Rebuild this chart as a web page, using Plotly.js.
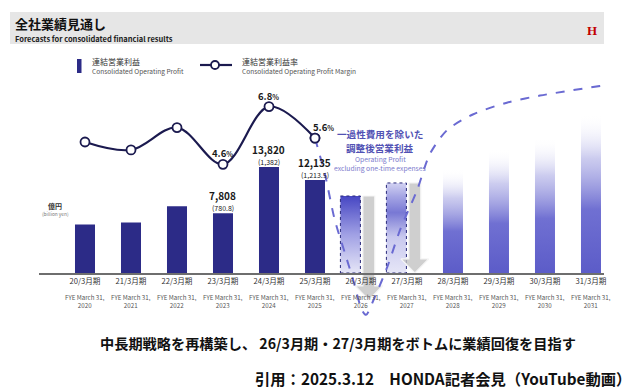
<!DOCTYPE html>
<html><head><meta charset="utf-8">
<script src="https://cdn.plot.ly/plotly-3.0.1.min.js"></script>
<style>html,body{margin:0;padding:0;background:#fff;}#chart{width:637px;height:391px;}</style>
</head><body><div id="chart"></div>
<script>
// ---------- data ----------
const periods = ['20/3月期','21/3月期','22/3月期','23/3月期','24/3月期','25/3月期','26/3月期','27/3月期','28/3月期','29/3月期','30/3月期','31/3月期'];
const fyeYears = ['2020','2021','2022','2023','2024','2025','2026','2027','2028','2029','2030','2031'];
const actualProfit = [6336, 6602, 8712, 7808, 13820, 12135];          // 億円, 20/3 - 25/3
const profitLabels = ['', '', '', '7,808', '13,820', '12,135'];
const profitSubLabels = ['', '', '', '(780.8)', '(1,382)', '(1,213.5)'];
const marginPct = [5.45, 5.15, 6.0, 4.6, 6.8, 5.6];
const marginLabels = ['', '', '', '4.6', '6.8', '5.6'];
const adjustedProfit = [10050, 11750];       // 26/3, 27/3 (excluding one-time expenses)
const reportedArrowTip = [-3500, 0];         // 26/3, 27/3 arrow tips
const outlookProfit = [13600, 16200, 17700, 20800];  // 28/3 - 31/3 (faded)
const trendX = [5, 5.22, 5.43, 5.65, 5.83, 6.02, 6.11, 6.30, 6.57, 6.85, 7.22, 7.5, 7.87, 8.43, 9.17, 9.89, 11.2];
const trendPct = [5.6, 4.19, 2.48, 1.22, 0.19, -0.95, -1.14, -0.46, 0.68, 2.10, 3.62, 5.0, 5.9, 6.5, 6.95, 7.22, 7.59];

// ---------- style ----------
const FONT = '"Noto Sans CJK JP", "Noto Sans", sans-serif';
const NAVY = '#2c2b87';
const LINE = '#1b1a4f';
const PURPLE = '#6a6ad2';
const L = 39, R = 604, T = 85, B = 320;
const PX = p => (p - L) / (R - L);
const PY = p => (B - p) / (B - T);
const BW = 0.435;

const traces = [];

// faded outlook bars
outlookProfit.forEach((v, k) => {
  const c = 8 + k;
  traces.push({
    type: 'scatter', mode: 'lines', fill: 'toself', hoverinfo: 'skip', showlegend: false,
    x: [c - BW/2, c + BW/2, c + BW/2, c - BW/2, c - BW/2],
    y: [0, 0, v, v, 0],
    line: {width: 0, color: 'rgba(0,0,0,0)'},
    fillcolor: 'rgba(100,100,205,0.6)',
    fillgradient: {type: 'vertical', colorscale: [[0, 'rgb(92,92,200)'], [0.4, 'rgb(112,112,210)'], [0.72, 'rgba(170,170,228,0.6)'], [1, 'rgba(255,255,255,0)']]}
  });
});

// adjusted boxes 26/3, 27/3
const boxScales = [
  [[0, 'rgb(230,230,247)'], [0.5, 'rgb(160,160,228)'], [1, 'rgb(70,70,195)']],
  [[0, 'rgb(230,230,247)'], [0.4, 'rgb(200,200,238)'], [0.67, 'rgb(120,120,212)'], [0.85, 'rgb(165,165,228)'], [1, 'rgb(210,210,242)']]
];
adjustedProfit.forEach((v, k) => {
  const c = 6 + k - 0.23;
  traces.push({
    type: 'scatter', mode: 'lines', fill: 'toself', hoverinfo: 'skip', showlegend: false,
    x: [c - BW/2, c + BW/2, c + BW/2, c - BW/2, c - BW/2],
    y: [0, 0, v, v, 0],
    line: {width: 1, color: '#2a2a7a', dash: 'dot'},
    fillcolor: 'rgba(150,150,225,0.6)',
    fillgradient: {type: 'vertical', colorscale: boxScales[k]}
  });
});

// gray arrows
adjustedProfit.forEach((v, k) => {
  const c = 6 + k + 0.17, sw = 0.13, hw = 0.3, hl = 1830;
  const tip = reportedArrowTip[k];
  traces.push({
    type: 'scatter', mode: 'lines', fill: 'toself', hoverinfo: 'skip', showlegend: false,
    x: [c - sw, c + sw, c + sw, c + hw, c, c - hw, c - sw, c - sw],
    y: [v, v, tip + hl, tip + hl, tip, tip + hl, tip + hl, v],
    line: {width: 1.2, color: 'rgba(245,245,245,1)'},
    fillcolor: 'rgba(195,195,195,0.8)'
  });
});

// actual operating profit bars
traces.push({
  type: 'bar', x: actualProfit.map((_, i) => i), y: actualProfit, width: BW,
  marker: {color: NAVY, line: {width: 0}}, hoverinfo: 'skip', showlegend: false
});

// margin line
traces.push({
  type: 'scatter', mode: 'lines+markers', yaxis: 'y2', hoverinfo: 'skip', showlegend: false,
  x: marginPct.map((_, i) => i), y: marginPct,
  line: {color: LINE, width: 2.2, shape: 'spline', smoothing: 1},
  marker: {size: 9, color: '#fff', line: {color: LINE, width: 1.8}}
});

// recovery trend dashed
traces.push({
  type: 'scatter', mode: 'lines', yaxis: 'y2', hoverinfo: 'skip', showlegend: false,
  x: trendX, y: trendPct,
  line: {color: PURPLE, width: 2, dash: 'dash', shape: 'spline', smoothing: 0.8}
});
// redraw 25/3 marker on top of the dashed start
traces.push({
  type: 'scatter', mode: 'markers', yaxis: 'y2', hoverinfo: 'skip', showlegend: false,
  x: [5], y: [marginPct[5]],
  marker: {size: 9, color: '#fff', line: {color: LINE, width: 1.8}}
});

// ---------- annotations ----------
const ann = [];
const txt = (x, y, text, size, color, anchor, extra) => Object.assign({
  xref: 'paper', yref: 'paper', x: PX(x), y: PY(y), text, showarrow: false, borderpad: 0,
  xanchor: anchor || 'center', yanchor: 'middle', font: {family: FONT, size, color}
}, extra || {});

ann.push(txt(14, 24, '<b>全社業績見通し</b>', 13, '#111', 'left'));
ann.push(txt(14, 39, '<b>Forecasts for consolidated financial results</b>', 7.5, '#222', 'left'));
ann.push(txt(586, 30, '<b>H</b>', 13, '#c20000', 'left', {font: {family: '"Liberation Serif", serif', size: 13, color: '#c20000'}}));

// legend texts
ann.push(txt(91, 62, '連結営業利益', 8, '#333', 'left'));
ann.push(txt(91, 71, 'Consolidated Operating Profit', 6.6, '#555', 'left'));
ann.push(txt(241, 62, '連結営業利益率', 8, '#333', 'left'));
ann.push(txt(241, 71, 'Consolidated Operating Profit Margin', 6.6, '#555', 'left'));

// unit
ann.push(txt(55, 206, '<b>億円</b>', 7, '#333'));
ann.push(txt(55, 214, '(billion yen)', 4.8, '#777'));

// purple callout
ann.push(txt(380, 134, '<b>一過性費用を除いた</b>', 9.6, '#5252b4'));
ann.push(txt(380, 148, '<b>調整後営業利益</b>', 9.6, '#5252b4'));
ann.push(txt(380, 159, 'Operating Profit', 6.8, '#7a7acc'));
ann.push(txt(380, 168, 'excluding one-time expenses', 6.8, '#7a7acc'));

// value labels
actualProfit.forEach((v, i) => {
  if (!profitLabels[i]) return;
  ann.push({xref: 'x', yref: 'y', x: i, y: v, yshift: 17.5, showarrow: false, xanchor: 'center', yanchor: 'middle',
    borderpad: 0, text: '<b>' + profitLabels[i] + '</b>', font: {family: FONT, size: 10, color: '#1a1a1a'}});
  ann.push({xref: 'x', yref: 'y', x: i, y: v, yshift: 5.5, showarrow: false, xanchor: 'center', yanchor: 'middle',
    borderpad: 0, text: profitSubLabels[i], font: {family: FONT, size: 7, color: '#1a1a1a'}});
});
marginPct.forEach((v, i) => {
  if (!marginLabels[i]) return;
  ann.push({xref: 'x', yref: 'y2', x: i, y: v, yshift: 11, xshift: i === 5 ? 9 : 0, showarrow: false,
    xanchor: 'center', yanchor: 'middle',
    text: '<b>' + marginLabels[i] + '</b><span style="font-size:7px"><b>%</b></span>',
    font: {family: FONT, size: 9.5, color: '#1a1a1a'}});
});

// FYE labels under ticks
periods.forEach((p, i) => {
  ann.push({xref: 'x', yref: 'paper', x: i, y: PY(301.5), showarrow: false, xanchor: 'center', yanchor: 'middle',
    text: 'FYE March 31,<br>' + fyeYears[i], font: {family: FONT, size: 6.2, color: '#555'}});
});

// bottom messages
ann.push(txt(338, 343, '<b>中長期戦略を再構築し、 26/3月期・27/3月期をボトムに業績回復を目指す</b>', 14.2, '#111'));
ann.push(txt(443, 378, '<b>引用：2025.3.12　HONDA記者会見（YouTube動画）</b>', 15.3, '#111'));

// ---------- shapes ----------
const shapes = [
  {type: 'rect', xref: 'paper', yref: 'paper', x0: PX(10), x1: PX(604), y0: PY(44), y1: PY(12), fillcolor: '#e6e6e6', line: {width: 0}, layer: 'below'},
  {type: 'rect', xref: 'paper', yref: 'paper', x0: PX(77), x1: PX(81.5), y0: PY(73), y1: PY(59), fillcolor: NAVY, line: {width: 0}},
  {type: 'line', xref: 'paper', yref: 'paper', x0: PX(200), x1: PX(232), y0: PY(65), y1: PY(65), line: {color: LINE, width: 2.2}},
  {type: 'circle', xref: 'paper', yref: 'paper', x0: PX(211), x1: PX(219), y0: PY(69), y1: PY(61), fillcolor: '#fff', line: {color: LINE, width: 1.8}}
];

const layout = {
  width: 637, height: 391,
  margin: {l: L, r: 637 - R, t: T, b: 391 - B, pad: 0},
  paper_bgcolor: '#fff', plot_bgcolor: 'rgba(0,0,0,0)',
  showlegend: false,
  xaxis: {
    range: [-1, 11.283], tickvals: periods.map((_, i) => i), ticktext: periods,
    anchor: 'free', position: PY(273), showline: true, linecolor: '#6e6e6e', linewidth: 1.5,
    ticks: '', showgrid: false, zeroline: false,
    tickfont: {family: FONT, size: 7.6, color: '#333'}, fixedrange: true
  },
  yaxis: {range: [-6134, 24534], visible: false, fixedrange: true},
  yaxis2: {range: [-1.336, 7.624], overlaying: 'y', visible: false, fixedrange: true},
  annotations: ann, shapes: shapes
};

Plotly.newPlot('chart', traces, layout, {displayModeBar: false, staticPlot: true});
</script>
</body></html>
